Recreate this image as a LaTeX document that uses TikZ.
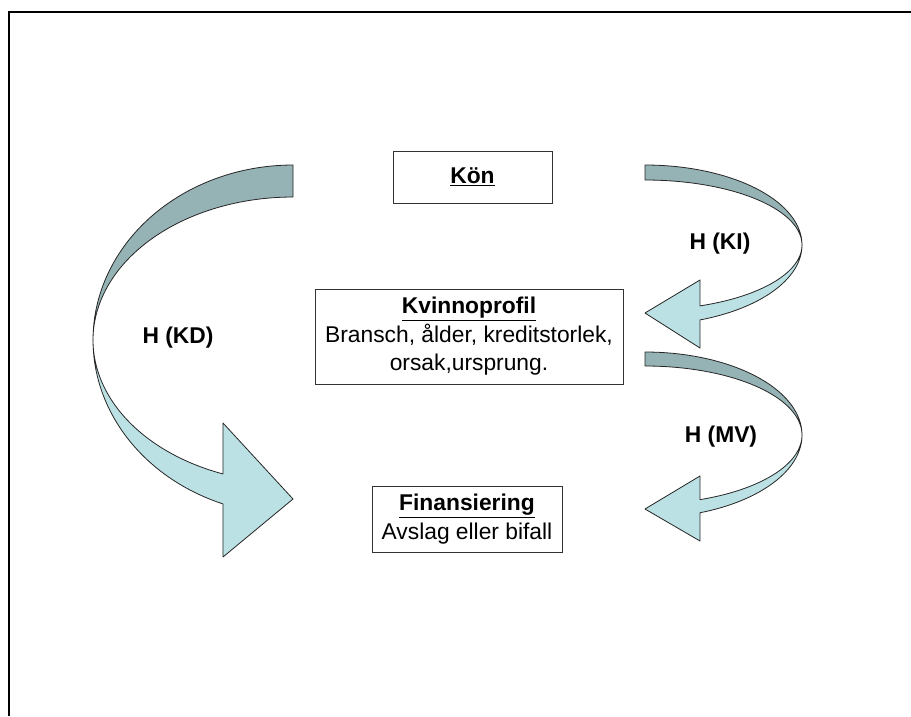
\documentclass[tikz,border=0pt]{standalone}
\usepackage{fontspec}
\setmainfont{Liberation Sans}
\definecolor{darkband}{HTML}{95B2B4}
\definecolor{lightband}{HTML}{BBE1E4}
\begin{document}
\begin{tikzpicture}[x=1pt,y=-1pt,
  band/.style={draw=black!85, line width=0.8pt, line join=round},
  boxnode/.style={draw=black!80, line width=0.9pt, align=center, inner sep=0pt,
    font=\fontsize{22.8}{28.5}\selectfont},
  lbl/.style={font=\fontsize{22.8}{26}\selectfont\bfseries}]
\useasboundingbox (0,0) rectangle (911,716);
\fill[white] (0,0) rectangle (911,716);
\draw[line width=2pt] (9,716) -- (9,12) -- (911,12);

% boxes
\node[boxnode, minimum width=159pt, minimum height=52pt] (kon) at (472.5,177) {\underline{\textbf{Kön}}};
\node[boxnode, minimum width=308pt, minimum height=95pt] (kp) at (469,336.5)
  {\underline{\textbf{Kvinnoprofil}}\\Bransch, ålder, kreditstorlek,\\orsak,ursprung.};
\node[boxnode, minimum width=190pt, minimum height=66pt] (fin) at (467,519)
  {\underline{\textbf{Finansiering}}\\Avslag eller bifall};

% KD arrow
\filldraw[band, fill=darkband]
  plot[domain=270:180, samples=60] ({293+200*cos(\x)},{340+175*sin(\x)})
  -- plot[domain=180:270, samples=60] ({293+200*cos(\x)},{340+143*sin(\x)}) -- cycle;
\filldraw[band, fill=lightband]
  plot[domain=180:110.5, samples=50] ({293+200*cos(\x)},{340+175*sin(\x)})
  -- (223,557) -- (293,499) -- (223,423)
  -- plot[domain=110.5:180, samples=50] ({293+200*cos(\x)},{340+143*sin(\x)}) -- cycle;

% KI arrow
\filldraw[band, fill=darkband]
  plot[domain=270:360, samples=60] ({645+157*cos(\x)},{245+80*sin(\x)})
  -- plot[domain=360:270, samples=60] ({645+157*cos(\x)},{245+65*sin(\x)}) -- cycle;
\filldraw[band, fill=lightband]
  plot[domain=0:69.5, samples=50] ({645+157*cos(\x)},{245+80*sin(\x)})
  -- (700,348) -- (645,313) -- (700,280)
  -- plot[domain=69.5:0, samples=50] ({645+157*cos(\x)},{245+65*sin(\x)}) -- cycle;

% MV arrow
\filldraw[band, fill=darkband]
  plot[domain=270:360, samples=60] ({645+157*cos(\x)},{435+83*sin(\x)})
  -- plot[domain=360:270, samples=60] ({645+157*cos(\x)},{435+69*sin(\x)}) -- cycle;
\filldraw[band, fill=lightband]
  plot[domain=0:69.5, samples=50] ({645+157*cos(\x)},{435+83*sin(\x)})
  -- (700,541) -- (645,509) -- (700,476)
  -- plot[domain=69.5:0, samples=50] ({645+157*cos(\x)},{435+69*sin(\x)}) -- cycle;

% labels
\node[lbl] (hkd) at (178,338) {H (KD)};
\node[lbl] (hki) at (720,244) {H (KI)};
\node[lbl] (hmv) at (721,437) {H (MV)};
\end{tikzpicture}
\end{document}
